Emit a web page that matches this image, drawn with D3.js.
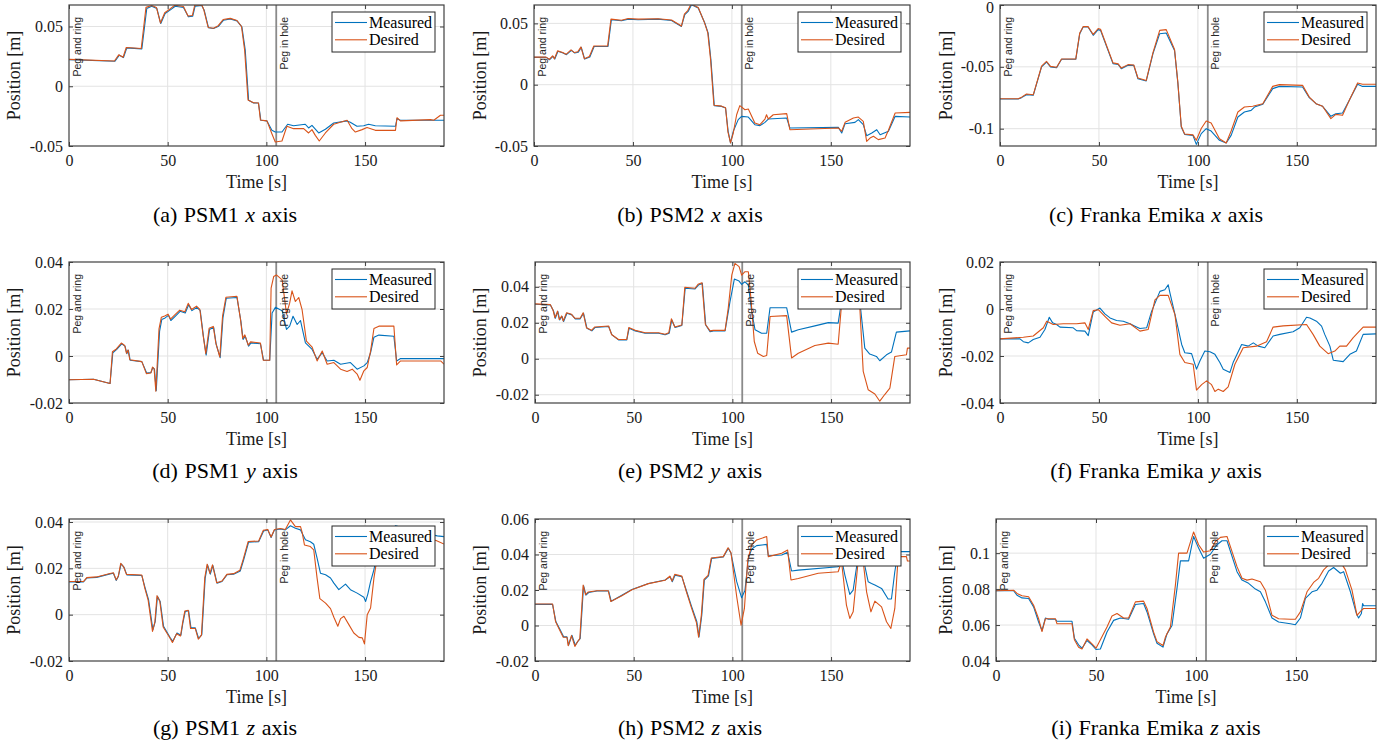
<!DOCTYPE html>
<html>
<head>
<meta charset="utf-8">
<script src="https://cdn.jsdelivr.net/npm/d3@7"></script>
<style>
body { margin: 0; background: #fff; }
svg { display: block; }
</style>
</head>
<body>
<svg id="chart" width="1396" height="746"></svg>
<script>
// ---------------------------- DATA (time [s], position [m]) ----------------------------
const psm1xMeasured = [[0,0.0223],[23.3,0.0209],[25.5,0.0260],[27.6,0.0240],[29.3,0.0321],[36.9,0.0313],[39.4,0.0651],[41.9,0.0670],[44.5,0.0651],[46.5,0.0525],[48.7,0.0609],[51.2,0.0637],[53.8,0.0670],[58.0,0.0659],[60.5,0.0581],[62.7,0.0587],[63.9,0.0670],[67.3,0.0676],[68.5,0.0637],[70.7,0.0489],[73.2,0.0483],[75.8,0.0503],[78.3,0.0553],[81.7,0.0564],[85.1,0.0547],[87.6,0.0497],[89.3,0.0302],[91.0,-0.0117],[93.5,-0.0140],[96.0,-0.0140],[97.2,-0.0285],[100.3,-0.0290],[102.8,-0.0369],[104.5,-0.0383],[107.9,-0.0383],[110.8,-0.0318],[113.8,-0.0330],[119.7,-0.0318],[121.4,-0.0349],[123.1,-0.0327],[126.5,-0.0391],[129.9,-0.0360],[134.1,-0.0307],[140.9,-0.0290],[142.5,-0.0302],[145.9,-0.0335],[149.3,-0.0330],[151.8,-0.0318],[155.2,-0.0330],[165.4,-0.0335],[166.2,-0.0271],[167.9,-0.0285],[183.1,-0.0285],[190,-0.0285]];
const psm1xDesired = [[0,0.0225],[23.0,0.0211],[25.2,0.0263],[27.4,0.0243],[29.0,0.0324],[36.6,0.0316],[39.0,0.0660],[41.9,0.0675],[44.3,0.0660],[46.3,0.0530],[48.5,0.0615],[51.0,0.0645],[53.6,0.0678],[58.0,0.0668],[60.3,0.0588],[62.5,0.0592],[63.7,0.0678],[67.3,0.0680],[68.3,0.0640],[70.5,0.0492],[73.2,0.0486],[75.6,0.0507],[78.1,0.0558],[81.7,0.0568],[85.1,0.0550],[87.4,0.0500],[89.0,0.0300],[90.7,-0.0115],[93.5,-0.0138],[96.0,-0.0140],[97.0,-0.0283],[100.3,-0.0290],[102.8,-0.0397],[104.5,-0.0466],[107.9,-0.0458],[110.4,-0.0335],[113.8,-0.0355],[118.9,-0.0355],[121.4,-0.0391],[123.1,-0.0363],[124.8,-0.0411],[126.8,-0.0458],[129.9,-0.0391],[134.1,-0.0318],[140.9,-0.0285],[143.4,-0.0355],[145.1,-0.0383],[148.5,-0.0363],[151.0,-0.0346],[155.2,-0.0369],[165.4,-0.0369],[166.2,-0.0263],[167.9,-0.0290],[183.1,-0.0279],[184.8,-0.0285],[188.2,-0.0243],[190,-0.0243]];

const psm2xMeasured = [[0,0.0223],[6.2,0.0223],[7.9,0.0204],[9.6,0.0231],[10.5,0.0209],[12.1,0.0272],[14.7,0.0258],[16.4,0.0245],[18.9,0.0280],[20.6,0.0258],[22.3,0.0264],[23.9,0.0304],[25.6,0.0209],[28.2,0.0226],[30.4,0.0312],[37.4,0.0312],[39.1,0.0530],[44.2,0.0522],[47.6,0.0535],[52.6,0.0530],[62.7,0.0535],[69.5,0.0524],[74.5,0.0475],[76.2,0.0571],[77.9,0.0598],[79.6,0.0652],[83.0,0.0625],[86.3,0.0503],[88.0,0.0421],[89.4,0.0204],[91.1,-0.0171],[94.8,-0.0177],[96.8,-0.0190],[98.1,-0.0380],[99.3,-0.0475],[100.7,-0.0380],[103.2,-0.0285],[104.9,-0.0258],[108.3,-0.0264],[111.6,-0.0326],[114.2,-0.0334],[116.7,-0.0307],[118.4,-0.0280],[127.7,-0.0272],[129.3,-0.0353],[153.8,-0.0348],[155.5,-0.0394],[157.2,-0.0318],[162.2,-0.0307],[163.9,-0.0285],[166.4,-0.0326],[168.1,-0.0416],[170.7,-0.0394],[173.2,-0.0367],[174.9,-0.0408],[179.1,-0.0380],[182.5,-0.0258],[190,-0.0264]];
const psm2xDesired = [[0,0.0225],[6.0,0.0225],[7.7,0.0207],[9.4,0.0235],[10.3,0.0212],[11.9,0.0276],[14.5,0.0262],[16.2,0.0248],[18.7,0.0284],[20.4,0.0262],[22.1,0.0268],[23.7,0.0308],[25.4,0.0212],[28.0,0.0230],[30.2,0.0315],[37.2,0.0315],[38.9,0.0535],[44.2,0.0526],[47.6,0.0540],[52.6,0.0535],[62.7,0.0538],[69.5,0.0528],[74.5,0.0478],[76.0,0.0575],[77.7,0.0605],[79.4,0.0658],[83.0,0.0630],[86.1,0.0508],[87.8,0.0425],[89.2,0.0210],[90.9,-0.0168],[94.8,-0.0175],[96.8,-0.0188],[98.0,-0.0385],[99.3,-0.0475],[100.7,-0.0394],[102.4,-0.0245],[104.0,-0.0171],[106.6,-0.0204],[108.3,-0.0198],[111.6,-0.0312],[114.2,-0.0326],[116.7,-0.0280],[117.5,-0.0245],[118.4,-0.0280],[120.9,-0.0245],[127.7,-0.0236],[129.3,-0.0367],[153.8,-0.0353],[155.5,-0.0380],[157.2,-0.0307],[161.4,-0.0272],[163.9,-0.0264],[166.4,-0.0299],[168.1,-0.0462],[169.8,-0.0435],[171.5,-0.0421],[174.0,-0.0448],[177.4,-0.0435],[179.1,-0.0372],[182.5,-0.0231],[190,-0.0226]];

const frankaxMeasured = [[0,-0.0760],[9.2,-0.0760],[10.9,-0.0749],[13.4,-0.0725],[16.8,-0.0730],[21.0,-0.0501],[23.5,-0.0461],[25.5,-0.0501],[28.6,-0.0507],[31.1,-0.0439],[38.3,-0.0439],[40.3,-0.0232],[42.0,-0.0178],[44.5,-0.0178],[47.1,-0.0245],[49.6,-0.0199],[50.8,-0.0205],[57.1,-0.0474],[59.7,-0.0480],[61.3,-0.0515],[64.7,-0.0488],[67.6,-0.0488],[69.7,-0.0596],[73.9,-0.0614],[77.3,-0.0393],[80.7,-0.0232],[84.0,-0.0226],[88.2,-0.0367],[89.9,-0.0636],[91.6,-0.0986],[93.3,-0.1046],[97.5,-0.1054],[99.2,-0.1127],[101.7,-0.1040],[104.2,-0.1000],[106.7,-0.1019],[110.9,-0.1094],[114.3,-0.1116],[116.8,-0.1054],[120.2,-0.0906],[123.5,-0.0865],[126.9,-0.0852],[128.6,-0.0825],[132.8,-0.0803],[137.8,-0.0676],[141.2,-0.0658],[152.9,-0.0663],[156.3,-0.0749],[159.7,-0.0798],[163.0,-0.0819],[167.2,-0.0900],[169.7,-0.0879],[173.1,-0.0873],[176.5,-0.0771],[180.7,-0.0641],[183.2,-0.0658],[190,-0.0658]];
const frankaxDesired = [[0,-0.0758],[9.2,-0.0758],[10.9,-0.0745],[13.4,-0.0720],[16.8,-0.0726],[21.0,-0.0495],[23.5,-0.0455],[25.5,-0.0496],[28.6,-0.0503],[31.1,-0.0436],[38.3,-0.0436],[40.3,-0.0226],[42.0,-0.0175],[44.5,-0.0175],[47.1,-0.0238],[49.6,-0.0190],[50.8,-0.0196],[57.1,-0.0468],[59.7,-0.0476],[61.3,-0.0510],[64.7,-0.0482],[67.6,-0.0485],[69.7,-0.0590],[73.9,-0.0610],[77.3,-0.0385],[80.7,-0.0205],[84.0,-0.0199],[88.2,-0.0360],[89.9,-0.0630],[91.6,-0.0980],[93.3,-0.1043],[97.5,-0.1050],[99.2,-0.1094],[101.7,-0.0998],[104.2,-0.0938],[106.7,-0.0954],[110.9,-0.1081],[114.3,-0.1116],[116.8,-0.1019],[120.2,-0.0865],[123.5,-0.0825],[127.7,-0.0819],[132.8,-0.0798],[137.8,-0.0658],[141.2,-0.0644],[152.9,-0.0650],[156.3,-0.0745],[159.7,-0.0798],[163.0,-0.0819],[167.2,-0.0919],[169.7,-0.0884],[173.1,-0.0892],[176.5,-0.0771],[180.7,-0.0630],[183.2,-0.0641],[190,-0.0641]];

const psm1yMeasured = [[0,-0.0101],[12.4,-0.0099],[20.8,-0.0117],[22.2,0.0014],[24.2,0.0028],[26.7,0.0052],[28.4,0.0042],[29.3,0.0010],[30.1,0.0024],[31.0,-0.0018],[36.9,-0.0024],[39.4,-0.0073],[41.5,-0.0070],[42.5,-0.0049],[43.3,-0.0056],[44.2,-0.0148],[45.9,0.0106],[47.0,0.0155],[48.7,0.0162],[50.4,0.0173],[51.6,0.0151],[53.8,0.0169],[56.3,0.0190],[58.9,0.0183],[60.6,0.0218],[62.3,0.0193],[64.8,0.0207],[66.5,0.0193],[68.2,0.0077],[69.5,0.0004],[71.2,0.0113],[73.3,0.0122],[74.6,0.0049],[76.6,-0.0007],[78.0,0.0162],[79.7,0.0246],[85.1,0.0249],[87.1,0.0148],[88.2,0.0070],[89.3,0.0084],[91.0,0.0042],[92.2,0.0056],[97.0,0.0052],[98.6,-0.0018],[101.7,-0.0018],[102.9,0.0183],[104.6,0.0207],[108.0,0.0193],[110.2,0.0113],[111.8,0.0127],[113.5,0.0169],[115.6,0.0134],[117.3,0.0151],[119.8,0.0056],[123.2,0.0028],[125.7,-0.0014],[128.3,0.0014],[130.8,-0.0021],[134.2,-0.0018],[137.6,-0.0035],[142.6,-0.0028],[146.0,-0.0056],[149.4,-0.0042],[151.1,-0.0028],[152.8,0.0014],[154.5,0.0080],[157.0,0.0089],[164.6,0.0084],[166.0,-0.0021],[168.0,-0.0011],[190,-0.0011]];
const psm1yDesired = [[0,-0.0101],[12.4,-0.0099],[20.8,-0.0117],[22.0,0.0018],[24.0,0.0030],[26.5,0.0055],[28.2,0.0045],[29.1,0.0012],[29.9,0.0026],[30.8,-0.0016],[36.9,-0.0024],[39.2,-0.0075],[41.5,-0.0072],[42.3,-0.0047],[43.1,-0.0054],[44.0,-0.0150],[45.6,0.0115],[46.8,0.0165],[48.5,0.0170],[50.2,0.0178],[51.4,0.0157],[53.6,0.0175],[56.1,0.0195],[58.7,0.0188],[60.4,0.0224],[62.1,0.0198],[64.6,0.0212],[66.3,0.0198],[68.0,0.0085],[69.3,0.0010],[71.0,0.0118],[73.1,0.0126],[74.4,0.0055],[76.4,-0.0004],[77.8,0.0170],[79.5,0.0250],[85.1,0.0254],[86.9,0.0155],[88.0,0.0075],[89.1,0.0090],[90.8,0.0046],[92.0,0.0060],[97.0,0.0055],[98.4,-0.0018],[101.7,-0.0018],[102.4,0.0289],[103.7,0.0338],[105.1,0.0345],[108.0,0.0324],[110.2,0.0179],[111.8,0.0225],[113.0,0.0277],[114.7,0.0232],[116.4,0.0249],[118.1,0.0197],[120.3,0.0063],[123.2,0.0038],[125.7,-0.0021],[128.3,0.0021],[130.8,-0.0035],[134.2,-0.0028],[137.6,-0.0056],[140.9,-0.0066],[143.5,-0.0056],[146.0,-0.0077],[147.4,-0.0103],[149.4,-0.0063],[151.1,-0.0049],[152.8,0.0021],[154.5,0.0117],[157.0,0.0127],[164.6,0.0127],[166.0,-0.0038],[168.0,-0.0021],[188.3,-0.0021],[190,-0.0035]];

const psm2yMeasured = [[0,0.0303],[7.8,0.0299],[9.4,0.0266],[10.3,0.0225],[11.6,0.0262],[12.5,0.0216],[13.7,0.0235],[14.5,0.0207],[16.2,0.0253],[18.7,0.0244],[20.4,0.0222],[22.9,0.0222],[24.6,0.0253],[26.3,0.0170],[28.8,0.0155],[30.5,0.0174],[37.3,0.0179],[39.0,0.0133],[42.3,0.0105],[46.5,0.0105],[47.7,0.0170],[50.8,0.0155],[55.8,0.0142],[62.6,0.0142],[65.9,0.0133],[68.0,0.0142],[69.3,0.0216],[71.0,0.0174],[74.4,0.0185],[76.1,0.0392],[81.1,0.0388],[82.8,0.0410],[84.8,0.0419],[86.5,0.0188],[88.7,0.0151],[90.4,0.0155],[96.3,0.0155],[98.8,0.0318],[101.0,0.0443],[103.4,0.0432],[104.7,0.0414],[106.4,0.0428],[108.1,0.0410],[109.8,0.0262],[111.5,0.0161],[114.8,0.0142],[117.4,0.0142],[119.1,0.0284],[127.5,0.0284],[130.0,0.0148],[133.4,0.0161],[141.8,0.0183],[148.6,0.0201],[153.6,0.0198],[155.0,0.0299],[156.2,0.0392],[158.0,0.0450],[163.0,0.0450],[164.6,0.0318],[167.1,0.0059],[169.6,0.0026],[173.0,0.0013],[174.7,-0.0011],[178.1,0.0022],[180.6,0.0037],[183.1,0.0148],[190,0.0155]];
const psm2yDesired = [[0,0.0305],[7.8,0.0301],[9.2,0.0268],[10.1,0.0228],[11.4,0.0265],[12.3,0.0218],[13.5,0.0238],[14.3,0.0210],[16.0,0.0256],[18.5,0.0247],[20.2,0.0225],[22.9,0.0225],[24.4,0.0256],[26.1,0.0172],[28.6,0.0158],[30.3,0.0177],[37.3,0.0182],[38.8,0.0135],[42.3,0.0107],[46.5,0.0107],[47.5,0.0174],[50.8,0.0158],[55.8,0.0145],[62.6,0.0145],[65.9,0.0136],[67.8,0.0145],[69.1,0.0222],[70.8,0.0177],[74.4,0.0188],[75.9,0.0398],[81.1,0.0392],[82.6,0.0414],[84.6,0.0423],[86.3,0.0192],[88.7,0.0155],[90.4,0.0158],[96.3,0.0158],[97.9,0.0281],[99.7,0.0465],[101.3,0.0530],[103.4,0.0512],[104.7,0.0465],[106.4,0.0484],[108.1,0.0484],[109.4,0.0336],[111.1,0.0096],[112.8,0.0031],[115.7,0.0013],[117.4,0.0018],[119.1,0.0235],[127.5,0.0240],[130.0,0.0004],[133.4,0.0031],[141.8,0.0074],[148.6,0.0087],[153.6,0.0081],[155.0,0.0262],[156.2,0.0392],[158.0,0.0450],[163.0,0.0450],[164.6,0.0281],[166.3,-0.0070],[168.8,-0.0172],[172.2,-0.0196],[174.7,-0.0236],[177.2,-0.0199],[179.8,-0.0163],[182.3,0.0013],[188.2,0.0022],[188.7,0.0059],[190,0.0059]];

const frankayMeasured = [[0,-0.0127],[10.1,-0.0127],[11.8,-0.0139],[14.3,-0.0144],[16.8,-0.0130],[20.2,-0.0120],[22.7,-0.0087],[24.9,-0.0035],[26.6,-0.0059],[28.6,-0.0066],[30.3,-0.0077],[37.0,-0.0080],[38.7,-0.0092],[42.9,-0.0094],[44.6,-0.0113],[47.1,-0.0013],[50.5,0.0004],[53.0,-0.0021],[55.6,-0.0038],[58.9,-0.0049],[62.3,-0.0052],[65.7,-0.0063],[68.2,-0.0073],[70.7,-0.0083],[74.1,-0.0080],[76.6,-0.0010],[80.8,0.0075],[83.3,0.0082],[85.0,0.0103],[85.9,0.0068],[89.2,-0.0052],[91.8,-0.0151],[93.4,-0.0186],[96.8,-0.0190],[99.3,-0.0256],[101.0,-0.0221],[103.5,-0.0179],[106.1,-0.0182],[108.6,-0.0193],[111.1,-0.0228],[112.8,-0.0256],[116.2,-0.0270],[117.8,-0.0228],[122.1,-0.0151],[125.4,-0.0158],[128.0,-0.0144],[130.5,-0.0158],[133.8,-0.0165],[138.0,-0.0115],[141.4,-0.0108],[148.1,-0.0097],[151.5,-0.0080],[154.9,-0.0035],[156.6,-0.0038],[159.9,-0.0052],[162.5,-0.0073],[164.1,-0.0108],[166.7,-0.0158],[168.4,-0.0218],[173.4,-0.0224],[176.8,-0.0193],[180.1,-0.0179],[183.5,-0.0108],[190,-0.0106]];
const frankayDesired = [[0,-0.0127],[11.8,-0.0120],[16.8,-0.0115],[21.9,-0.0080],[23.6,-0.0052],[26.9,-0.0066],[32.0,-0.0063],[38.7,-0.0063],[42.9,-0.0059],[44.6,-0.0087],[47.1,-0.0007],[49.7,-0.0003],[53.0,-0.0031],[56.4,-0.0059],[60.6,-0.0069],[65.7,-0.0063],[70.7,-0.0094],[74.9,-0.0087],[78.3,0.0039],[80.8,0.0058],[85.0,0.0058],[88.4,-0.0024],[90.9,-0.0193],[93.4,-0.0228],[97.6,-0.0235],[99.3,-0.0345],[101.9,-0.0322],[104.4,-0.0306],[106.9,-0.0322],[108.6,-0.0351],[110.3,-0.0341],[112.8,-0.0351],[115.3,-0.0331],[118.7,-0.0235],[122.9,-0.0165],[129.6,-0.0158],[134.7,-0.0139],[138.0,-0.0077],[143.1,-0.0072],[154.9,-0.0066],[158.2,-0.0108],[161.6,-0.0158],[165.8,-0.0190],[169.2,-0.0179],[171.7,-0.0158],[175.1,-0.0158],[178.5,-0.0122],[183.5,-0.0077],[190,-0.0077]];

const psm1zMeasured = [[0,0.0141],[7.3,0.0141],[9.0,0.0158],[14.0,0.0161],[20.8,0.0176],[22.5,0.0179],[23.9,0.0148],[25.0,0.0165],[26.4,0.0219],[27.9,0.0204],[29.3,0.0172],[36.9,0.0169],[38.6,0.0115],[40.3,0.0065],[42.5,-0.0065],[43.7,-0.0029],[44.8,0.0079],[46.2,0.0057],[47.9,-0.0050],[51.3,-0.0100],[52.6,-0.0115],[54.7,-0.0079],[56.7,-0.0089],[57.7,-0.0036],[58.9,0.0014],[60.6,0.0017],[61.8,-0.0057],[64.0,-0.0057],[65.7,-0.0103],[67.3,-0.0086],[69.0,0.0158],[70.2,0.0215],[71.6,0.0175],[72.9,0.0212],[75.0,0.0136],[77.5,0.0143],[80.0,0.0172],[83.4,0.0175],[86.8,0.0189],[88.5,0.0237],[91.0,0.0313],[96.1,0.0315],[98.6,0.0361],[100.7,0.0366],[102.4,0.0333],[104.1,0.0366],[107.1,0.0370],[109.6,0.0366],[112.2,0.0384],[114.7,0.0373],[117.3,0.0366],[119.8,0.0323],[122.3,0.0315],[124.0,0.0304],[125.7,0.0244],[127.4,0.0179],[130.0,0.0172],[132.5,0.0158],[134.2,0.0136],[136.7,0.0108],[140.1,0.0132],[142.6,0.0108],[146.0,0.0093],[149.4,0.0075],[150.3,0.0057],[151.4,0.0089],[152.8,0.0143],[154.5,0.0194],[156.2,0.0272],[160.0,0.0340],[165.5,0.0384],[175.0,0.0360],[186.6,0.0340],[190,0.0337]];
const psm1zDesired = [[0,0.0143],[7.3,0.0143],[9.0,0.0160],[14.0,0.0163],[20.8,0.0178],[22.5,0.0181],[23.9,0.0150],[25.0,0.0167],[26.2,0.0222],[27.7,0.0206],[29.1,0.0174],[36.9,0.0171],[38.4,0.0115],[40.1,0.0063],[42.3,-0.0072],[43.5,-0.0032],[44.6,0.0082],[46.0,0.0058],[47.7,-0.0053],[51.3,-0.0103],[52.4,-0.0120],[54.5,-0.0082],[56.5,-0.0092],[57.5,-0.0038],[58.7,0.0016],[60.4,0.0019],[61.6,-0.0060],[64.0,-0.0060],[65.5,-0.0106],[67.1,-0.0088],[68.8,0.0160],[70.0,0.0218],[71.4,0.0178],[72.7,0.0215],[74.8,0.0138],[77.5,0.0145],[80.0,0.0174],[83.4,0.0177],[86.6,0.0192],[88.3,0.0240],[90.8,0.0316],[96.1,0.0318],[98.4,0.0364],[100.7,0.0368],[102.4,0.0335],[104.1,0.0368],[107.1,0.0372],[109.6,0.0368],[112.2,0.0409],[114.7,0.0380],[117.3,0.0380],[118.1,0.0356],[119.3,0.0301],[122.3,0.0294],[124.0,0.0280],[125.7,0.0158],[127.1,0.0069],[130.0,0.0050],[132.5,0.0026],[134.2,-0.0011],[136.2,-0.0050],[137.6,-0.0017],[139.3,-0.0007],[141.8,-0.0043],[144.3,-0.0079],[146.9,-0.0098],[148.6,-0.0100],[149.7,-0.0126],[151.1,0.0000],[152.8,0.0029],[154.5,0.0158],[155.8,0.0229],[160.0,0.0330],[165.0,0.0360],[175.0,0.0340],[186.0,0.0320],[190,0.0305]];

const psm2zMeasured = [[0,0.0119],[8.9,0.0119],[10.6,0.0021],[12.8,-0.0026],[14.5,-0.0064],[16.2,-0.0064],[17.0,-0.0111],[18.7,-0.0055],[20.4,-0.0111],[21.8,-0.0088],[22.9,-0.0073],[24.6,0.0224],[25.8,0.0171],[27.2,0.0186],[31.4,0.0194],[37.3,0.0194],[38.6,0.0137],[44.0,0.0171],[49.1,0.0203],[57.5,0.0237],[65.9,0.0256],[68.5,0.0275],[69.6,0.0247],[71.0,0.0284],[74.4,0.0275],[76.9,0.0190],[79.4,0.0105],[82.0,0.0021],[83.1,-0.0064],[84.5,0.0058],[85.8,0.0256],[87.9,0.0280],[89.5,0.0378],[95.4,0.0386],[98.0,0.0435],[99.3,0.0407],[102.2,0.0247],[104.7,0.0156],[106.4,0.0199],[108.1,0.0378],[109.8,0.0431],[112.3,0.0450],[117.4,0.0457],[118.2,0.0393],[125.0,0.0397],[128.0,0.0412],[130.0,0.0307],[133.4,0.0312],[153.6,0.0331],[155.3,0.0378],[157.0,0.0284],[159.5,0.0175],[161.2,0.0199],[163.7,0.0388],[166.3,0.0378],[168.8,0.0247],[170.5,0.0237],[172.2,0.0228],[175.6,0.0209],[178.9,0.0149],[180.6,0.0149],[182.3,0.0303],[184.0,0.0416],[190,0.0416]];
const psm2zDesired = [[0,0.0121],[8.9,0.0121],[10.4,0.0023],[12.6,-0.0028],[14.3,-0.0066],[16.2,-0.0066],[16.8,-0.0114],[18.5,-0.0057],[20.2,-0.0118],[21.6,-0.0090],[22.7,-0.0075],[24.4,0.0228],[25.6,0.0174],[27.0,0.0189],[31.4,0.0196],[37.1,0.0196],[38.4,0.0135],[44.0,0.0168],[49.1,0.0201],[57.5,0.0236],[65.9,0.0255],[68.3,0.0278],[69.4,0.0250],[70.8,0.0288],[74.4,0.0278],[76.7,0.0190],[79.2,0.0102],[81.8,0.0016],[82.9,-0.0066],[84.3,0.0060],[85.6,0.0260],[87.7,0.0283],[89.3,0.0380],[95.4,0.0388],[97.8,0.0438],[99.3,0.0410],[102.2,0.0162],[104.4,0.0002],[106.1,0.0096],[107.8,0.0369],[109.8,0.0454],[112.3,0.0482],[117.4,0.0501],[118.2,0.0388],[125.0,0.0407],[128.0,0.0425],[129.7,0.0256],[133.4,0.0265],[143.5,0.0294],[153.6,0.0303],[155.3,0.0359],[157.8,0.0115],[159.5,0.0040],[161.2,0.0077],[163.7,0.0359],[166.3,0.0359],[168.0,0.0190],[170.2,0.0077],[172.2,0.0137],[175.6,0.0105],[178.1,0.0021],[180.3,-0.0017],[182.3,0.0096],[184.0,0.0388],[188.2,0.0388],[188.7,0.0363],[190,0.0363]];

const frankazMeasured = [[0,0.0791],[8.8,0.0791],[10.5,0.0766],[13.0,0.0751],[16.3,0.0748],[18.8,0.0701],[21.3,0.0617],[23.0,0.0570],[24.7,0.0639],[26.3,0.0632],[29.7,0.0632],[30.5,0.0621],[38.0,0.0621],[39.2,0.0527],[41.3,0.0490],[43.0,0.0471],[45.5,0.0514],[48.0,0.0490],[50.0,0.0464],[52.2,0.0467],[55.5,0.0561],[58.8,0.0626],[62.2,0.0639],[66.3,0.0632],[69.7,0.0714],[73.8,0.0720],[75.5,0.0673],[78.8,0.0551],[80.5,0.0499],[83.5,0.0477],[85.5,0.0551],[88.0,0.0598],[90.5,0.0804],[92.2,0.0957],[96.3,0.0957],[98.8,0.1093],[101.3,0.1028],[103.8,0.0972],[107.2,0.0994],[110.5,0.1047],[113.0,0.1069],[115.5,0.1069],[120.5,0.0897],[123.0,0.0850],[126.3,0.0832],[129.7,0.0800],[132.2,0.0785],[134.7,0.0729],[138.0,0.0639],[141.3,0.0617],[147.2,0.0607],[149.7,0.0602],[152.2,0.0639],[154.7,0.0748],[158.0,0.0785],[160.5,0.0794],[163.0,0.0832],[166.3,0.0901],[168.8,0.0920],[172.2,0.0888],[173.8,0.0897],[177.2,0.0785],[180.2,0.0664],[181.3,0.0639],[182.7,0.0664],[183.3,0.0720],[183.8,0.0707],[190,0.0707]];
const frankazDesired = [[0,0.0791],[8.8,0.0794],[10.5,0.0776],[13.0,0.0763],[16.3,0.0757],[18.8,0.0710],[21.3,0.0635],[23.0,0.0564],[24.7,0.0635],[29.7,0.0635],[30.5,0.0607],[38.0,0.0607],[39.2,0.0518],[41.3,0.0477],[43.0,0.0467],[45.5,0.0523],[48.0,0.0495],[50.0,0.0471],[55.5,0.0589],[58.0,0.0650],[60.5,0.0664],[63.8,0.0639],[66.3,0.0639],[69.7,0.0729],[73.8,0.0733],[75.5,0.0692],[78.8,0.0561],[80.5,0.0508],[83.5,0.0486],[84.7,0.0533],[87.2,0.0589],[89.7,0.0822],[91.3,0.1000],[95.5,0.1000],[98.8,0.1118],[101.3,0.1047],[103.8,0.1006],[107.2,0.1013],[109.7,0.1065],[112.2,0.1088],[115.5,0.1093],[120.5,0.0925],[123.0,0.0860],[125.5,0.0850],[128.0,0.0856],[132.2,0.0841],[134.7,0.0794],[138.0,0.0654],[141.3,0.0635],[147.2,0.0632],[149.7,0.0632],[152.2,0.0673],[155.5,0.0785],[158.8,0.0837],[161.3,0.0860],[163.8,0.0907],[167.2,0.0944],[172.2,0.0953],[174.7,0.0907],[178.0,0.0794],[180.5,0.0654],[182.7,0.0682],[183.8,0.0692],[190,0.0692]];

// ---------------------------- CHART SETUP ----------------------------
const timeDomain = [0, 190];
const timeTicks = [0, 50, 100, 150];
const seriesNames = ["Measured", "Desired"];
const seriesColors = ["#0072BD", "#D95319"];
const eventTimes = [0, 105];
const eventLabels = ["Peg and ring", "Peg in hole"];

const captionLetters = ["a", "b", "c", "d", "e", "f", "g", "h", "i"];
const robotNames = ["PSM1", "PSM2", "Franka Emika", "PSM1", "PSM2", "Franka Emika", "PSM1", "PSM2", "Franka Emika"];
const axisNames = ["x", "x", "x", "y", "y", "y", "z", "z", "z"];
const yDomains = [[-0.05, 0.068], [-0.05, 0.065], [-0.114, 0], [-0.02, 0.04], [-0.0246, 0.0538], [-0.04, 0.02], [-0.02, 0.0413], [-0.02, 0.06], [0.04, 0.119]];
const yTickValues = [[-0.05, 0, 0.05], [-0.05, 0, 0.05], [-0.1, -0.05, 0], [-0.02, 0, 0.02, 0.04], [-0.02, 0, 0.02, 0.04], [-0.04, -0.02, 0, 0.02], [-0.02, 0, 0.02, 0.04], [-0.02, 0, 0.02, 0.04, 0.06], [0.04, 0.06, 0.08, 0.1]];
const measuredSeries = [psm1xMeasured, psm2xMeasured, frankaxMeasured, psm1yMeasured, psm2yMeasured, frankayMeasured, psm1zMeasured, psm2zMeasured, frankazMeasured];
const desiredSeries = [psm1xDesired, psm2xDesired, frankaxDesired, psm1yDesired, psm2yDesired, frankayDesired, psm1zDesired, psm2zDesired, frankazDesired];

// Layout of the 3x3 grid (pixels)
const plotLefts = [69, 534, 1000, 69, 535, 1000, 69, 535, 996];
const colRights = [444, 910, 1376];
const rowTops = [5, 262, 519];
const rowBottoms = [146, 403, 661];
const yLabelX = [20, 486, 952];
const captionX = [225, 690, 1156];
const captionY = [222, 478, 735];

const serif = "'Liberation Serif', 'Times New Roman', serif";
const sans = "'Liberation Sans', Arial, sans-serif";
const axisColor = "#404040";

const svg = d3.select("#chart");
const defs = svg.append("defs");

function fmtTick(v) {
    if (v === 0) return "0";
    return String(+v.toFixed(3));
}

captionLetters.forEach((letter, i) => {
    const row = Math.floor(i / 3);
    const col = i % 3;
    const left = plotLefts[i], right = colRights[col];
    const top = rowTops[row], bottom = rowBottoms[row];

    const x = d3.scaleLinear().domain(timeDomain).range([left, right]);
    const y = d3.scaleLinear().domain(yDomains[i]).range([bottom, top]);

    const g = svg.append("g").attr("class", "panel");

    // grid lines
    g.selectAll(".vgrid")
        .data(timeTicks.filter(t => t > timeDomain[0]))
        .join("line")
        .attr("x1", d => x(d)).attr("x2", d => x(d))
        .attr("y1", top).attr("y2", bottom)
        .attr("stroke", "#e3e3e3").attr("stroke-width", 1);
    g.selectAll(".hgrid")
        .data(yTickValues[i].filter(v => v > yDomains[i][0] && v < yDomains[i][1]))
        .join("line")
        .attr("x1", left).attr("x2", right)
        .attr("y1", d => y(d)).attr("y2", d => y(d))
        .attr("stroke", "#e3e3e3").attr("stroke-width", 1);

    // clip
    defs.append("clipPath").attr("id", "clip" + letter)
        .append("rect")
        .attr("x", left).attr("y", top)
        .attr("width", right - left).attr("height", bottom - top);

    // event lines
    g.selectAll(".event")
        .data(eventTimes.filter(t => t > timeDomain[0]))
        .join("line")
        .attr("x1", d => x(d)).attr("x2", d => x(d))
        .attr("y1", top).attr("y2", bottom)
        .attr("stroke", "#8a8a8a").attr("stroke-width", 1.8);

    // series
    const line = d3.line().x(d => x(d[0])).y(d => y(d[1]));
    const lines = g.append("g").attr("clip-path", "url(#clip" + letter + ")");
    [measuredSeries[i], desiredSeries[i]].forEach((series, k) => {
        lines.append("path")
            .datum(series)
            .attr("d", line)
            .attr("fill", "none")
            .attr("stroke", seriesColors[k])
            .attr("stroke-width", 1.1)
            .attr("stroke-linejoin", "round");
    });

    // event labels
    eventTimes.forEach((t, k) => {
        const ex = x(t) + 11.5;
        const ey = top + 12;
        g.append("text")
            .attr("transform", "translate(" + ex + "," + ey + ") rotate(-90)")
            .attr("text-anchor", "end")
            .attr("font-family", sans)
            .attr("font-size", "10.5px")
            .attr("fill", "#262626")
            .text(eventLabels[k]);
    });

    // axes (inward ticks on all four sides)
    const xAxis = g.append("g").attr("transform", "translate(0," + bottom + ")")
        .call(d3.axisBottom(x).tickValues(timeTicks).tickFormat(d3.format("d"))
            .tickSizeInner(-4).tickSizeOuter(0).tickPadding(8.5));
    const xAxisTop = g.append("g").attr("transform", "translate(0," + top + ")")
        .call(d3.axisTop(x).tickValues(timeTicks).tickFormat("")
            .tickSizeInner(-4).tickSizeOuter(0));
    const yAxis = g.append("g").attr("transform", "translate(" + left + ",0)")
        .call(d3.axisLeft(y).tickValues(yTickValues[i]).tickFormat(fmtTick)
            .tickSizeInner(-4).tickSizeOuter(0).tickPadding(6));
    const yAxisRight = g.append("g").attr("transform", "translate(" + right + ",0)")
        .call(d3.axisRight(y).tickValues(yTickValues[i]).tickFormat("")
            .tickSizeInner(-4).tickSizeOuter(0));
    [xAxis, xAxisTop, yAxis, yAxisRight].forEach(a => {
        a.select(".domain").remove();
        a.selectAll(".tick line").attr("stroke", axisColor);
        a.selectAll(".tick text")
            .attr("font-family", serif)
            .attr("font-size", "16px")
            .attr("fill", "#1a1a1a");
    });
    // keep a label sitting on the very top edge inside the page
    yAxis.selectAll(".tick text")
        .attr("y", d => Math.max(0, 7 - y(d)));

    // box
    g.append("rect")
        .attr("x", left).attr("y", top)
        .attr("width", right - left).attr("height", bottom - top)
        .attr("fill", "none")
        .attr("stroke", axisColor)
        .attr("stroke-width", 1.2);

    // axis titles
    g.append("text")
        .attr("x", (left + right) / 2)
        .attr("y", bottom + 42)
        .attr("text-anchor", "middle")
        .attr("font-family", serif)
        .attr("font-size", "18px")
        .attr("fill", "#1a1a1a")
        .text("Time [s]");
    g.append("text")
        .attr("transform", "translate(" + yLabelX[col] + "," + (top + bottom) / 2 + ") rotate(-90)")
        .attr("text-anchor", "middle")
        .attr("font-family", serif)
        .attr("font-size", "18px")
        .attr("fill", "#1a1a1a")
        .text("Position [m]");

    // legend
    const lx = right - 112, ly = top + 7;
    const legend = g.append("g").attr("transform", "translate(" + lx + "," + ly + ")");
    legend.append("rect")
        .attr("width", 103).attr("height", 40)
        .attr("fill", "#fff")
        .attr("stroke", "#262626")
        .attr("stroke-width", 1);
    seriesNames.forEach((name, k) => {
        legend.append("line")
            .attr("x1", 3).attr("x2", 35)
            .attr("y1", 10.5 + k * 17.3).attr("y2", 10.5 + k * 17.3)
            .attr("stroke", seriesColors[k]).attr("stroke-width", 1.1);
        legend.append("text")
            .attr("x", 37).attr("y", 15.5 + k * 17.3)
            .attr("font-family", serif)
            .attr("font-size", "16px")
            .attr("fill", "#000")
            .text(name);
    });

    // caption
    const cap = svg.append("text")
        .attr("x", captionX[col])
        .attr("y", captionY[row])
        .attr("text-anchor", "middle")
        .attr("font-family", serif)
        .attr("font-size", "22px")
        .attr("word-spacing", "1px")
        .attr("fill", "#000");
    cap.append("tspan").text("(" + letter + ") " + robotNames[i] + " ");
    cap.append("tspan").attr("font-style", "italic").text(axisNames[i]);
    cap.append("tspan").text(" axis");
});
</script>
</body>
</html>
